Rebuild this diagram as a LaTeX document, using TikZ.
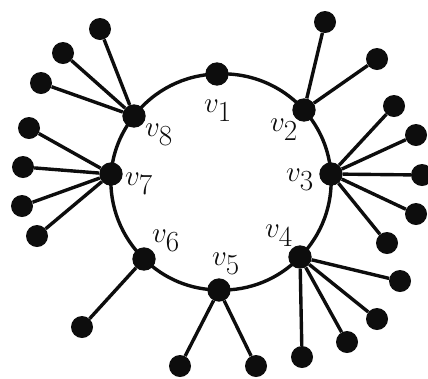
\documentclass[tikz,border=0pt]{standalone}
\usepackage{amsmath}
\usepackage{tikz}
\definecolor{ringInk}{HTML}{0D0D0D}

\begin{document}
\begin{tikzpicture}[
    x=0.03cm, y=-0.03cm,
    hub/.style={
        circle,
        fill=ringInk,
        inner sep=0pt,
        minimum size=0.7cm
    },
    leaf/.style={
        circle,
        fill=ringInk,
        inner sep=0pt,
        minimum size=0.66cm
    },
    edge/.style={line width=2.9pt, draw=ringInk},
    lbl/.style={font=\fontsize{34}{40}\selectfont, text=ringInk, inner sep=0pt},
]
\useasboundingbox (0,0) rectangle (428,378);

% ring
\node[hub] (v1) at (217,74) {};
\node[hub] (v2) at (304,110) {};
\node[hub] (v3) at (331,174) {};
\node[hub] (v4) at (300,257) {};
\node[hub] (v5) at (219,290) {};
\node[hub] (v6) at (144,259) {};
\node[hub] (v7) at (111,174) {};
\node[hub] (v8) at (134,116) {};

\draw[edge] (v1.center) to[bend left=25.5, looseness=0.9] (v2.center);
\draw[edge] (v2.center) to[bend left=18.5, looseness=0.9] (v3.center);
\draw[edge] (v3.center) to[bend left=23.8, looseness=0.9] (v4.center);
\draw[edge] (v4.center) to[bend left=23.8, looseness=0.9] (v5.center);
\draw[edge] (v5.center) to[bend left=22, looseness=0.9] (v6.center);
\draw[edge] (v6.center) to[bend left=24.5, looseness=0.9] (v7.center);
\draw[edge] (v7.center) to[bend left=16.5, looseness=0.9] (v8.center);
\draw[edge] (v8.center) to[bend left=25.5, looseness=0.9] (v1.center);

% pendant vertices
\node[leaf] (v2a) at (325,22) {};
\node[leaf] (v2b) at (377,59) {};

\node[leaf] (v3a) at (394,106) {};
\node[leaf] (v3b) at (416,135) {};
\node[leaf] (v3c) at (422,175) {};
\node[leaf] (v3d) at (416,214) {};
\node[leaf] (v3e) at (387,243) {};

\node[leaf] (v4a) at (400,281) {};
\node[leaf] (v4b) at (377,319) {};
\node[leaf] (v4c) at (347,342) {};
\node[leaf] (v4d) at (302,357) {};

\node[leaf] (v5a) at (256,366) {};
\node[leaf] (v5b) at (180,366) {};

\node[leaf] (v6a) at (82,327) {};

\node[leaf] (v7a) at (37,236) {};
\node[leaf] (v7b) at (22,206) {};
\node[leaf] (v7c) at (23,167) {};
\node[leaf] (v7d) at (29,128) {};

\node[leaf] (v8a) at (41,83) {};
\node[leaf] (v8b) at (63,53) {};
\node[leaf] (v8c) at (100,29) {};

\draw[edge] (v2) -- (v2a);
\draw[edge] (v2) -- (v2b);
\draw[edge] (v3) -- (v3a);
\draw[edge] (v3) -- (v3b);
\draw[edge] (v3) -- (v3c);
\draw[edge] (v3) -- (v3d);
\draw[edge] (v3) -- (v3e);
\draw[edge] (v4) -- (v4a);
\draw[edge] (v4) -- (v4b);
\draw[edge] (v4) -- (v4c);
\draw[edge] (v4) -- (v4d);
\draw[edge] (v5) -- (v5a);
\draw[edge] (v5) -- (v5b);
\draw[edge] (v6) -- (v6a);
\draw[edge] (v7) -- (v7a);
\draw[edge] (v7) -- (v7b);
\draw[edge] (v7) -- (v7c);
\draw[edge] (v7) -- (v7d);
\draw[edge] (v8) -- (v8a);
\draw[edge] (v8) -- (v8b);
\draw[edge] (v8) -- (v8c);

% labels
\node[lbl] (t1) at (218,111) {$v_1$};
\node[lbl] (t2) at (284,130) {$v_2$};
\node[lbl] (t3) at (300,180) {$v_3$};
\node[lbl] (t4) at (279,236) {$v_4$};
\node[lbl] (t5) at (226,264) {$v_5$};
\node[lbl] (t6) at (166,241) {$v_6$};
\node[lbl] (t7) at (139,184) {$v_7$};
\node[lbl] (t8) at (159,135) {$v_8$};

\end{tikzpicture}
\end{document}
